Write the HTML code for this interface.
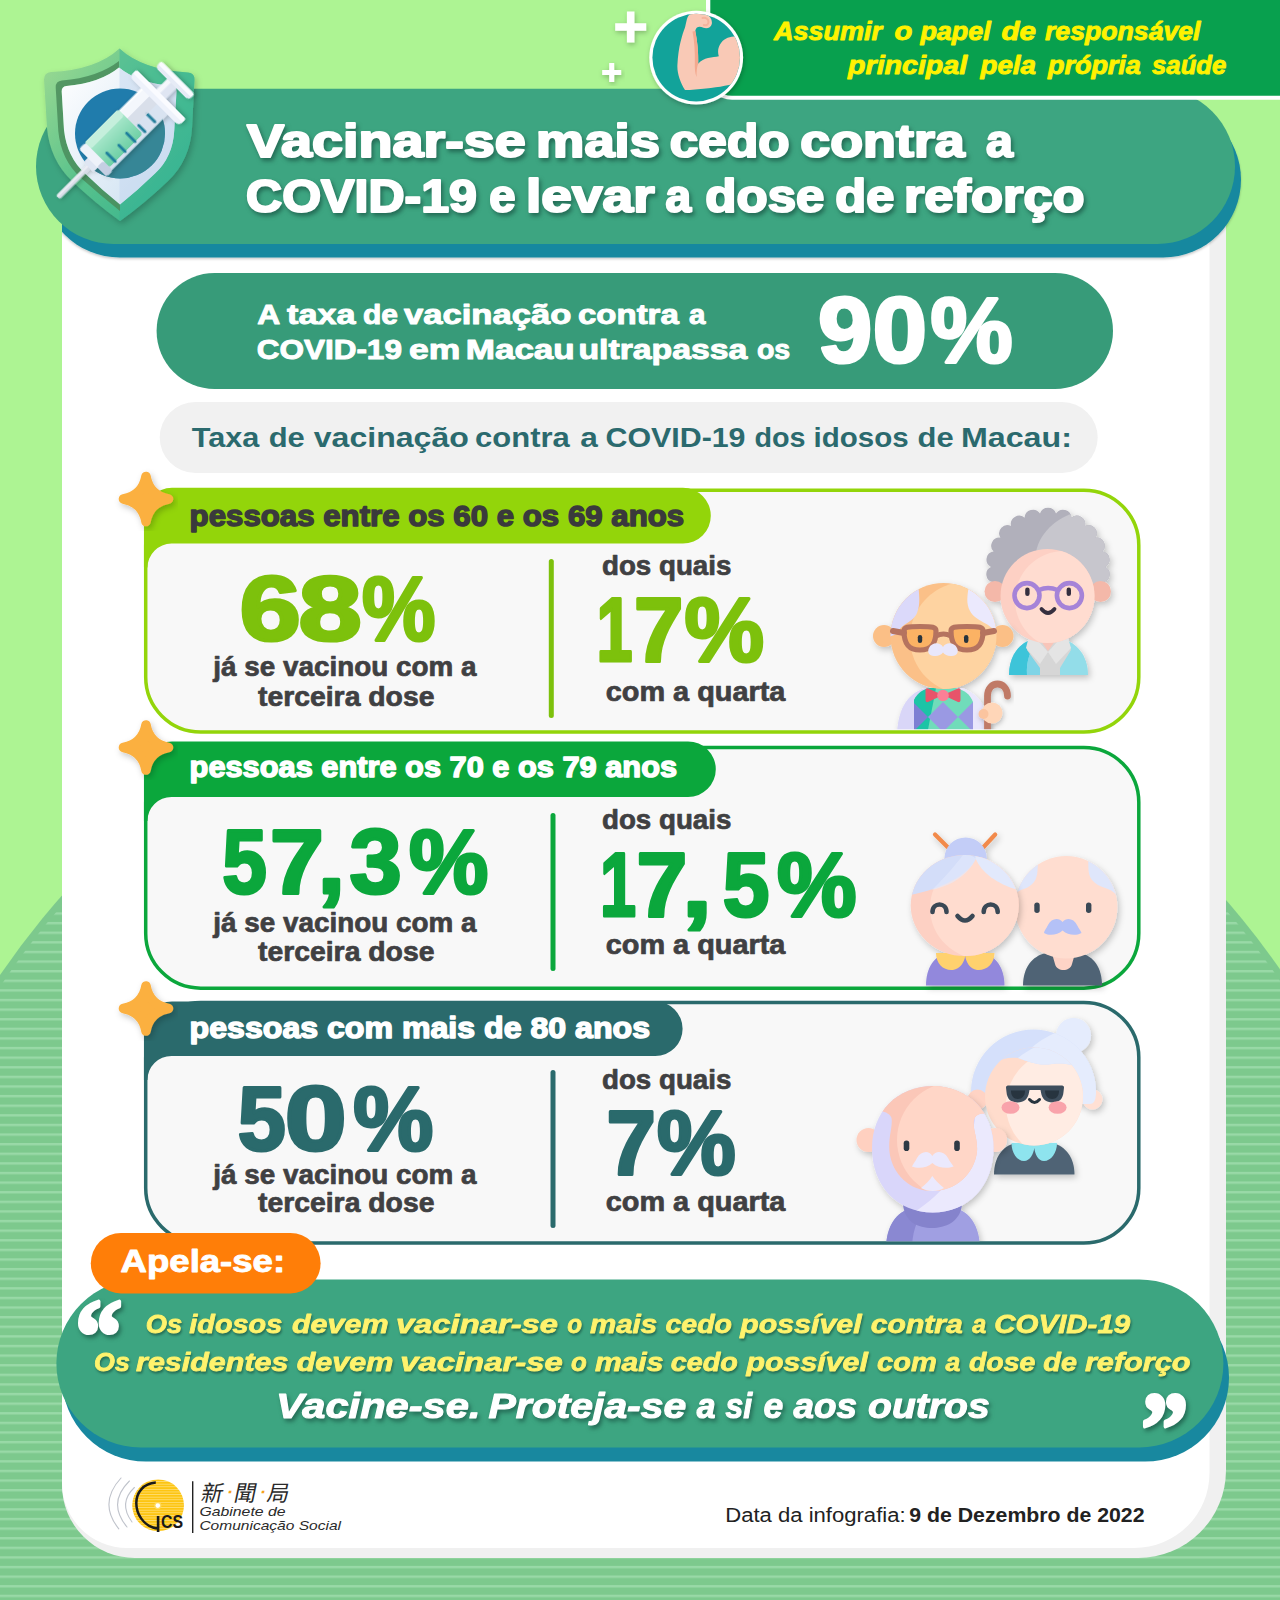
<!DOCTYPE html>
<html lang="pt"><head><meta charset="utf-8"><title>Vacinar-se mais cedo contra a COVID-19 e levar a dose de reforço</title>
<style>html,body{margin:0;padding:0;background:#adf493;}body{width:1280px;height:1600px;overflow:hidden;position:relative;font-family:"Liberation Sans","Noto Sans CJK TC",sans-serif;}svg{display:block;position:absolute;left:0;top:0}text{font-family:"Liberation Sans","Noto Sans CJK TC",sans-serif;white-space:pre}.sh{filter:drop-shadow(2px 3px 2px rgba(15,60,50,.55))}.sh2{filter:drop-shadow(1.5px 2px 1px rgba(20,70,55,.6))}</style></head><body>
<svg width="1280" height="1600" viewBox="0 0 1280 1600">
<defs>
<pattern id="stripes" x="0" y="8.900" width="20" height="9.6110" patternUnits="userSpaceOnUse"><rect width="20" height="9.6110" fill="#7dc98d"/><rect y="0" width="20" height="2.4" fill="#99d9a7"/></pattern>
<filter id="soft" x="-20%" y="-20%" width="140%" height="140%"><feDropShadow dx="2" dy="3" stdDeviation="3" flood-color="#000" flood-opacity=".22"/></filter>
<filter id="pillsh" x="-5%" y="-20%" width="110%" height="150%"><feDropShadow dx="0" dy="1.5" stdDeviation="1.2" flood-color="#000" flood-opacity=".22"/></filter><filter id="soft2" x="-20%" y="-20%" width="140%" height="140%"><feDropShadow dx="1" dy="2" stdDeviation="2.5" flood-color="#000" flood-opacity=".25"/></filter>
<linearGradient id="shieldG" x1="0" y1="0" x2="1" y2="1"><stop offset="0" stop-color="#a0db92"/><stop offset=".5" stop-color="#58c28c"/><stop offset="1" stop-color="#2fb08f"/></linearGradient>
<linearGradient id="shieldIn" x1="0" y1="0" x2="1" y2="1"><stop offset="0" stop-color="#ffffff"/><stop offset="1" stop-color="#c9def0"/></linearGradient>
<linearGradient id="syr" x1="0" y1="0" x2="1" y2="0"><stop offset="0" stop-color="#e8f1fb"/><stop offset="1" stop-color="#ffffff"/></linearGradient>
<linearGradient id="liq" x1="0" y1="0" x2="0" y2="1"><stop offset="0" stop-color="#b5ecd3"/><stop offset="1" stop-color="#6fd0a6"/></linearGradient>
</defs>
<rect width="1280" height="1600" fill="#adf493"/>
<clipPath id="hill"><circle cx="642" cy="1411" r="769.5"/></clipPath>
<circle cx="642" cy="1411" r="776" fill="#7dc98d"/>
<rect x="0" y="600" width="1280" height="1000" fill="url(#stripes)" clip-path="url(#hill)"/>
<path d="M62,160H1226V1470A88,88 0 0 1 1138,1558H135A73,73 0 0 1 62,1485Z" fill="#f0f0f0"/>
<path d="M62,160H1209.5V1473A75,75 0 0 1 1134.5,1548H127A65,65 0 0 1 62,1483Z" fill="#ffffff"/>
<path d="M626.95,11.5h7.5v11.75h11.75v7.5h-11.75v11.75h-7.5v-11.75h-11.75v-7.5h11.75z" fill="#fff" filter="url(#soft2)"/>
<path d="M609.2,63.0h5v7.0h7.0v5h-7.0v7.0h-5v-7.0h-7.0v-5h7.0z" fill="#fff" filter="url(#soft2)"/>
<clipPath id="cl62"><rect x="62" y="0" width="1218" height="1600"/></clipPath>
<rect x="42" y="102" width="1199" height="155.5" rx="77.7" fill="#18889f" clip-path="url(#cl62)" filter="url(#pillsh)"/>
<rect x="36" y="88.7" width="1199" height="155.3" rx="77.6" fill="#3da581"/>
<text y="156.9" font-size="46.5" font-weight="700" font-style="normal" fill="#fff" stroke="#fff" stroke-width="2.2" stroke-linejoin="round" class="sh"><tspan x="247.0" textLength="278.8" lengthAdjust="spacingAndGlyphs">Vacinar-se</tspan> <tspan x="536.1" textLength="123.8" lengthAdjust="spacingAndGlyphs">mais</tspan> <tspan x="669.8" textLength="119.8" lengthAdjust="spacingAndGlyphs">cedo</tspan> <tspan x="800.3" textLength="164.5" lengthAdjust="spacingAndGlyphs">contra</tspan>  <tspan x="985.9" textLength="26.9" lengthAdjust="spacingAndGlyphs">a</tspan></text>
<text y="212.3" font-size="46.5" font-weight="700" font-style="normal" fill="#fff" stroke="#fff" stroke-width="2.2" stroke-linejoin="round" class="sh"><tspan x="246.0" textLength="230.9" lengthAdjust="spacingAndGlyphs">COVID-19</tspan> <tspan x="489.3" textLength="26.3" lengthAdjust="spacingAndGlyphs">e</tspan> <tspan x="526.0" textLength="128.6" lengthAdjust="spacingAndGlyphs">levar</tspan> <tspan x="665.5" textLength="25.6" lengthAdjust="spacingAndGlyphs">a</tspan> <tspan x="705.3" textLength="119.1" lengthAdjust="spacingAndGlyphs">dose</tspan> <tspan x="835.3" textLength="59.1" lengthAdjust="spacingAndGlyphs">de</tspan> <tspan x="903.9" textLength="180.8" lengthAdjust="spacingAndGlyphs">reforço</tspan></text>
<path d="M706,0H1280V99.8H732A26,26 0 0 1 706,73.8Z" fill="#fff"/>
<path d="M710.3,0H1280V95.8H732A21.7,21.7 0 0 1 710.3,74Z" fill="#08a04e"/>
<text y="40.0" font-size="25" font-weight="700" font-style="italic" fill="#fff200" stroke="#fff200" stroke-width="0.9" stroke-linejoin="round"><tspan x="774.0" textLength="108.1" lengthAdjust="spacingAndGlyphs">Assumir</tspan> <tspan x="894.6" textLength="17.8" lengthAdjust="spacingAndGlyphs">o</tspan> <tspan x="920.4" textLength="70.4" lengthAdjust="spacingAndGlyphs">papel</tspan> <tspan x="1001.5" textLength="34.4" lengthAdjust="spacingAndGlyphs">de</tspan> <tspan x="1045.0" textLength="155.5" lengthAdjust="spacingAndGlyphs">responsável</tspan></text>
<text y="74.0" font-size="25" font-weight="700" font-style="italic" fill="#fff200" stroke="#fff200" stroke-width="0.9" stroke-linejoin="round"><tspan x="848.1" textLength="119.0" lengthAdjust="spacingAndGlyphs">principal</tspan> <tspan x="980.5" textLength="55.5" lengthAdjust="spacingAndGlyphs">pela</tspan> <tspan x="1047.9" textLength="93.0" lengthAdjust="spacingAndGlyphs">própria</tspan> <tspan x="1152.1" textLength="74.2" lengthAdjust="spacingAndGlyphs">saúde</tspan></text>
<g filter="url(#soft2)"><circle cx="696.2" cy="57.6" r="46.9" fill="#fff"/></g>
<circle cx="696.2" cy="57.6" r="43.8" fill="#12a39a"/>
<clipPath id="mc"><circle cx="696.2" cy="57.6" r="43.8"/></clipPath>
<g clip-path="url(#mc)"><path d="M690.6,14 C695,12.5 702,12.8 706,14.2 C710,15.8 712.5,19.5 711.8,24 C711,27.8 707,29 703.5,27.8 C701,26.8 699,26 697,27.5 C696,28.5 695.6,29.5 695.3,31 C697.5,42 698.5,53 698.2,63.8 C701,60.5 704.5,58.6 708,58 C712,57.3 716,57 718.8,56.3 C717.5,52 718,48 720,44.5 C723,39.5 728,37 733.8,36.6 L745,36 L745,80 C738,83.5 722,87 706,88.5 C699,89.3 691,90 685,90 C680,82 677,73 677.4,65 C677.8,56 679,48 680.5,42 C682,36 683.5,31 685,27.5 C686,23.5 686.5,20 687.5,17.5 C688.3,15.6 689.3,14.6 690.6,14Z" fill="#f9c9b6"/><path d="M692.5,31.5 C694.5,42 695,52 694.8,62 C694.6,68 695,73 696.5,77 C696.5,71 697,66.5 698.2,63.8 C698.5,53 697.5,42 695.3,31 Z" fill="#f3a98f"/><path d="M702.5,18 C705.5,17 708.5,19 708.5,22 C708.5,24.5 706,26 703.8,25" fill="none" stroke="#f5b39c" stroke-width="2" stroke-linecap="round"/></g>
<g filter="url(#soft)">
<path d="M119.5,48.5 Q96,70 51,72 Q44,72.5 44,79.5 L47,128 Q50,160 72,181 Q95,203 120,221 Q145,203 168,181 Q190,160 192,128 L194.5,80 Q195,73 188,72.5 Q143,70 119.5,48.5Z" fill="url(#shieldG)"/>
</g>
<clipPath id="shR"><rect x="119.5" y="40" width="90" height="190"/></clipPath>
<path d="M119.5,48.5 Q96,70 51,72 Q44,72.5 44,79.5 L47,128 Q50,160 72,181 Q95,203 120,221 Q145,203 168,181 Q190,160 192,128 L194.5,80 Q195,73 188,72.5 Q143,70 119.5,48.5Z" fill="#35b39a" opacity=".45" clip-path="url(#shR)"/>
<path d="M119,61 Q98,77.5 62,80.5 Q55.5,81 55.7,87.5 L58.3,131 Q61,160 81,178 Q100,195 120,211 L120,204 Q102,190 85,173.5 Q67,157 64,130 L61.7,91.5 Q61.5,86.5 66.5,86 Q100,83 119,67.5Z" fill="#4a8c5c" opacity=".85"/>
<path d="M119,67.5 Q100,83 66.5,86 Q61.5,86.5 61.7,91.5 L64,130 Q67,157 85,173.5 Q102,190 120,204.5 Q138,190 155,173.5 Q173,157 174.3,130 L176.5,91.5 Q176.7,86.5 172,86 Q138,83 119,67.5Z" fill="url(#shieldIn)"/>
<clipPath id="shIn"><path d="M119,67.5 Q100,83 66.5,86 Q61.5,86.5 61.7,91.5 L64,130 Q67,157 85,173.5 Q102,190 120,204.5 Q138,190 155,173.5 Q173,157 174.3,130 L176.5,91.5 Q176.7,86.5 172,86 Q138,83 119,67.5Z"/></clipPath>
<rect x="119.5" y="60" width="70" height="150" fill="#c4d7ee" opacity=".55" clip-path="url(#shIn)"/>
<circle cx="120" cy="133.5" r="45" fill="#207cac"/>
<clipPath id="bc"><circle cx="120" cy="133.5" r="45"/></clipPath>
<path d="M60,200 L200,60 L200,200Z" fill="#3d8a8f" opacity=".75" clip-path="url(#bc)"/>
<g transform="translate(58,197.5) rotate(-45)" filter="url(#soft2)">
<rect x="0" y="-2.6" width="47" height="5.2" rx="2.6" fill="#d9dde8"/>
<rect x="0" y="-2.6" width="47" height="2.4" rx="1.2" fill="#eceef5"/>
<rect x="43" y="-7" width="10" height="14" rx="2" fill="#dfe6f3"/>
<rect x="50" y="-18.5" width="92" height="37" rx="4" fill="url(#syr)"/>
<rect x="50" y="4" width="92" height="14.5" rx="3" fill="#cfdced" opacity=".8"/>
<rect x="57" y="-20" width="48" height="35" rx="3.5" fill="url(#liq)"/>
<rect x="57" y="-20" width="48" height="9" rx="3.5" fill="#c8f0de" opacity=".9"/>
<rect x="49" y="-19.5" width="9" height="39" rx="3" fill="#eef2fa"/>
<rect x="49" y="6" width="9" height="13.5" rx="3" fill="#c5cfe3"/>
<line x1="66" y1="3" x2="66" y2="15" stroke="#1a7f9c" stroke-width="3" stroke-linecap="round"/>
<line x1="80" y1="6" x2="80" y2="15" stroke="#1a7f9c" stroke-width="3" stroke-linecap="round"/>
<line x1="94" y1="3" x2="94" y2="15" stroke="#1a7f9c" stroke-width="3" stroke-linecap="round"/>
<line x1="108" y1="6" x2="108" y2="15" stroke="#1a7f9c" stroke-width="3" stroke-linecap="round"/>
<line x1="122" y1="3" x2="122" y2="15" stroke="#1a7f9c" stroke-width="3" stroke-linecap="round"/>
<rect x="105" y="-16" width="36" height="20" fill="#d5dbe8" opacity=".9"/>
<rect x="105" y="-16" width="36" height="9" fill="#f4f7fc"/>
<rect x="136" y="-35" width="10" height="70" rx="5" fill="#eef2fb"/>
<rect x="141" y="-35" width="5" height="70" rx="2.5" fill="#fafbff"/>
<rect x="146" y="-6.5" width="18" height="13" fill="#dfe5f2"/>
<rect x="146" y="-6.5" width="18" height="5" fill="#f5f7fc"/>
<rect x="161" y="-23.5" width="8.5" height="47" rx="4.2" fill="#e6ebf6"/>
<rect x="165" y="-23.5" width="4.5" height="47" rx="2.2" fill="#fafbff"/>
</g>
<rect x="156.6" y="273" width="956.4" height="116" rx="58" fill="#379b79"/>
<text y="324.4" font-size="28.5" font-weight="700" font-style="normal" fill="#fff" stroke="#fff" stroke-width="1.0" stroke-linejoin="round"><tspan x="257.3" textLength="21.8" lengthAdjust="spacingAndGlyphs">A</tspan> <tspan x="287.1" textLength="68.4" lengthAdjust="spacingAndGlyphs">taxa</tspan> <tspan x="363.0" textLength="35.0" lengthAdjust="spacingAndGlyphs">de</tspan> <tspan x="404.1" textLength="167.2" lengthAdjust="spacingAndGlyphs">vacinação</tspan> <tspan x="578.0" textLength="100.8" lengthAdjust="spacingAndGlyphs">contra</tspan> <tspan x="689.1" textLength="16.4" lengthAdjust="spacingAndGlyphs">a</tspan></text>
<text y="358.5" font-size="28.5" font-weight="700" font-style="normal" fill="#fff" stroke="#fff" stroke-width="1.0" stroke-linejoin="round"><tspan x="256.7" textLength="145.2" lengthAdjust="spacingAndGlyphs">COVID-19</tspan> <tspan x="409.1" textLength="51.3" lengthAdjust="spacingAndGlyphs">em</tspan> <tspan x="465.7" textLength="109.1" lengthAdjust="spacingAndGlyphs">Macau</tspan> <tspan x="578.4" textLength="168.9" lengthAdjust="spacingAndGlyphs">ultrapassa</tspan> <tspan x="756.9" textLength="33.3" lengthAdjust="spacingAndGlyphs">os</tspan></text>
<text y="362.1" font-size="92" font-weight="700" font-style="normal" fill="#fff" stroke="#fff" stroke-width="3.2" stroke-linejoin="round"><tspan x="818.0" textLength="54.2" lengthAdjust="spacingAndGlyphs">9</tspan><tspan x="872.8" textLength="54.2" lengthAdjust="spacingAndGlyphs">0</tspan><tspan x="930.6" textLength="82.1" lengthAdjust="spacingAndGlyphs">%</tspan></text>
<rect x="159.7" y="402" width="938" height="71" rx="35.5" fill="#f1f1f1"/>
<text y="447.2" font-size="28.5" font-weight="700" font-style="normal" fill="#2b6a6e"><tspan x="191.7" textLength="67.6" lengthAdjust="spacingAndGlyphs">Taxa</tspan> <tspan x="268.7" textLength="36.1" lengthAdjust="spacingAndGlyphs">de</tspan> <tspan x="313.8" textLength="155.0" lengthAdjust="spacingAndGlyphs">vacinação</tspan> <tspan x="475.0" textLength="94.8" lengthAdjust="spacingAndGlyphs">contra</tspan> <tspan x="580.3" textLength="17.6" lengthAdjust="spacingAndGlyphs">a</tspan> <tspan x="605.5" textLength="140.0" lengthAdjust="spacingAndGlyphs">COVID-19</tspan> <tspan x="754.4" textLength="51.1" lengthAdjust="spacingAndGlyphs">dos</tspan> <tspan x="813.6" textLength="95.1" lengthAdjust="spacingAndGlyphs">idosos</tspan> <tspan x="917.5" textLength="36.1" lengthAdjust="spacingAndGlyphs">de</tspan> <tspan x="960.9" textLength="111.0" lengthAdjust="spacingAndGlyphs">Macau:</tspan></text>
<rect x="145.7" y="490.2" width="993.0999999999999" height="241.8" rx="55" fill="#f8f8f8" stroke="#93d50a" stroke-width="3.5"/>
<path d="M143.95,515.8 A28,28 0 0 1 171.95,487.8 H682.9 A27.900000000000006,27.900000000000006 0 0 1 682.9,543.6 H171.45 A24,24 0 0 0 147.45,567.6 H143.95Z" fill="#93d50a"/>
<text x="189.6" y="525.7" font-size="30.2" font-weight="700" font-style="normal" fill="#3a3a3c" stroke="#3a3a3c" stroke-width="1.5" stroke-linejoin="round" textLength="494.6" lengthAdjust="spacingAndGlyphs">pessoas entre os 60 e os 69 anos</text>
<text y="639.8" font-size="91.5" font-weight="700" font-style="normal" fill="#7dc10c" stroke="#7dc10c" stroke-width="3.2" stroke-linejoin="round"><tspan x="239.6" textLength="61.4" lengthAdjust="spacingAndGlyphs">6</tspan><tspan x="298.6" textLength="63.3" lengthAdjust="spacingAndGlyphs">8</tspan><tspan x="362.1" textLength="73.4" lengthAdjust="spacingAndGlyphs">%</tspan></text>
<text x="213.3" y="675.5" font-size="27" font-weight="700" font-style="normal" fill="#404042" stroke="#404042" stroke-width="0.7" stroke-linejoin="round" textLength="263.2" lengthAdjust="spacingAndGlyphs">já se vacinou com a</text>
<text x="258.0" y="705.5" font-size="27" font-weight="700" font-style="normal" fill="#404042" stroke="#404042" stroke-width="0.7" stroke-linejoin="round" textLength="176.4" lengthAdjust="spacingAndGlyphs">terceira dose</text>
<line x1="551.3" y1="561.5" x2="551.3" y2="715.5" stroke="#7dc10c" stroke-width="5" stroke-linecap="round"/>
<text x="602.0" y="575.0" font-size="27" font-weight="700" font-style="normal" fill="#404042" stroke="#404042" stroke-width="0.7" stroke-linejoin="round" textLength="129.4" lengthAdjust="spacingAndGlyphs">dos quais</text>
<text y="661.2" font-size="91.5" font-weight="700" font-style="normal" fill="#7dc10c" stroke="#7dc10c" stroke-width="3.2" stroke-linejoin="round"><tspan x="596.4" textLength="36.1" lengthAdjust="spacingAndGlyphs">1</tspan><tspan x="634.1" textLength="49.4" lengthAdjust="spacingAndGlyphs">7</tspan><tspan x="684.5" textLength="79.5" lengthAdjust="spacingAndGlyphs">%</tspan></text>
<text x="605.7" y="701.0" font-size="27" font-weight="700" font-style="normal" fill="#404042" stroke="#404042" stroke-width="0.7" stroke-linejoin="round" textLength="179.7" lengthAdjust="spacingAndGlyphs">com a quarta</text>
<path d="M146,476.45 Q149.4,495.6 168.55,499 Q149.4,502.4 146,521.55 Q142.6,502.4 123.45,499 Q142.6,495.6 146,476.45Z" fill="#fbb040" stroke="#fbb040" stroke-width="9.5" stroke-linejoin="round" filter="url(#soft)"/>
<rect x="145.7" y="747.5" width="993.0999999999999" height="240.70000000000005" rx="55" fill="#f8f8f8" stroke="#0ba73c" stroke-width="3.5"/>
<path d="M143.95,769.5 A28,28 0 0 1 171.95,741.5 H688.05 A27.75,27.75 0 0 1 688.05,797 H171.45 A24,24 0 0 0 147.45,821 H143.95Z" fill="#0ba73c"/>
<text x="189.6" y="777.1" font-size="30.2" font-weight="700" font-style="normal" fill="#ffffff" stroke="#ffffff" stroke-width="1.5" stroke-linejoin="round" textLength="487.5" lengthAdjust="spacingAndGlyphs">pessoas entre os 70 e os 79 anos</text>
<text y="892.8" font-size="91.5" font-weight="700" font-style="normal" fill="#0ba73c" stroke="#0ba73c" stroke-width="3.2" stroke-linejoin="round"><tspan x="222.2" textLength="44.6" lengthAdjust="spacingAndGlyphs">5</tspan><tspan x="270.0" textLength="53.8" lengthAdjust="spacingAndGlyphs">7</tspan><tspan x="317.4" textLength="27.6" lengthAdjust="spacingAndGlyphs">,</tspan><tspan x="349.5" textLength="52.2" lengthAdjust="spacingAndGlyphs">3</tspan><tspan x="409.0" textLength="79.3" lengthAdjust="spacingAndGlyphs">%</tspan></text>
<text x="213.3" y="931.8" font-size="27" font-weight="700" font-style="normal" fill="#404042" stroke="#404042" stroke-width="0.7" stroke-linejoin="round" textLength="263.2" lengthAdjust="spacingAndGlyphs">já se vacinou com a</text>
<text x="258.0" y="961.3" font-size="27" font-weight="700" font-style="normal" fill="#404042" stroke="#404042" stroke-width="0.7" stroke-linejoin="round" textLength="176.4" lengthAdjust="spacingAndGlyphs">terceira dose</text>
<line x1="553" y1="815.5" x2="553" y2="968.5" stroke="#0ba73c" stroke-width="5" stroke-linecap="round"/>
<text x="602.0" y="828.5" font-size="27" font-weight="700" font-style="normal" fill="#404042" stroke="#404042" stroke-width="0.7" stroke-linejoin="round" textLength="129.4" lengthAdjust="spacingAndGlyphs">dos quais</text>
<text y="916.1" font-size="91.5" font-weight="700" font-style="normal" fill="#0ba73c" stroke="#0ba73c" stroke-width="3.2" stroke-linejoin="round"><tspan x="599.9" textLength="36.1" lengthAdjust="spacingAndGlyphs">1</tspan><tspan x="636.5" textLength="50.8" lengthAdjust="spacingAndGlyphs">7</tspan><tspan x="681.9" textLength="30.0" lengthAdjust="spacingAndGlyphs">,</tspan><tspan x="722.8" textLength="46.6" lengthAdjust="spacingAndGlyphs">5</tspan><tspan x="777.0" textLength="79.5" lengthAdjust="spacingAndGlyphs">%</tspan></text>
<text x="605.7" y="953.5" font-size="27" font-weight="700" font-style="normal" fill="#404042" stroke="#404042" stroke-width="0.7" stroke-linejoin="round" textLength="179.7" lengthAdjust="spacingAndGlyphs">com a quarta</text>
<path d="M146,724.95 Q149.4,744.1 168.55,747.5 Q149.4,750.9 146,770.05 Q142.6,750.9 123.45,747.5 Q142.6,744.1 146,724.95Z" fill="#fbb040" stroke="#fbb040" stroke-width="9.5" stroke-linejoin="round" filter="url(#soft)"/>
<rect x="145.7" y="1002.5" width="993.0999999999999" height="240.5" rx="55" fill="#f8f8f8" stroke="#2a6a6c" stroke-width="3.5"/>
<path d="M143.95,1029.5 A28,28 0 0 1 171.95,1001.5 H655.35 A27.25,27.25 0 0 1 655.35,1056 H171.45 A24,24 0 0 0 147.45,1080 H143.95Z" fill="#2a6a6c"/>
<text x="189.6" y="1038.1" font-size="30.2" font-weight="700" font-style="normal" fill="#ffffff" stroke="#ffffff" stroke-width="1.5" stroke-linejoin="round" textLength="460.4" lengthAdjust="spacingAndGlyphs">pessoas com mais de 80 anos</text>
<text y="1150.3" font-size="91.5" font-weight="700" font-style="normal" fill="#2a6a6c" stroke="#2a6a6c" stroke-width="3.2" stroke-linejoin="round"><tspan x="237.8" textLength="48.0" lengthAdjust="spacingAndGlyphs">5</tspan><tspan x="284.8" textLength="61.9" lengthAdjust="spacingAndGlyphs">0</tspan><tspan x="353.2" textLength="80.1" lengthAdjust="spacingAndGlyphs">%</tspan></text>
<text x="213.3" y="1183.5" font-size="27" font-weight="700" font-style="normal" fill="#404042" stroke="#404042" stroke-width="0.7" stroke-linejoin="round" textLength="263.2" lengthAdjust="spacingAndGlyphs">já se vacinou com a</text>
<text x="258.0" y="1212.3" font-size="27" font-weight="700" font-style="normal" fill="#404042" stroke="#404042" stroke-width="0.7" stroke-linejoin="round" textLength="176.4" lengthAdjust="spacingAndGlyphs">terceira dose</text>
<line x1="553" y1="1072.5" x2="553" y2="1225.5" stroke="#2a6a6c" stroke-width="5" stroke-linecap="round"/>
<text x="602.0" y="1089.3" font-size="27" font-weight="700" font-style="normal" fill="#404042" stroke="#404042" stroke-width="0.7" stroke-linejoin="round" textLength="129.4" lengthAdjust="spacingAndGlyphs">dos quais</text>
<text y="1173.5" font-size="91.5" font-weight="700" font-style="normal" fill="#2a6a6c" stroke="#2a6a6c" stroke-width="3.2" stroke-linejoin="round"><tspan x="606.6" textLength="49.4" lengthAdjust="spacingAndGlyphs">7</tspan><tspan x="657.0" textLength="78.7" lengthAdjust="spacingAndGlyphs">%</tspan></text>
<text x="605.7" y="1210.5" font-size="27" font-weight="700" font-style="normal" fill="#404042" stroke="#404042" stroke-width="0.7" stroke-linejoin="round" textLength="179.7" lengthAdjust="spacingAndGlyphs">com a quarta</text>
<path d="M146,985.95 Q149.4,1005.1 168.55,1008.5 Q149.4,1011.9 146,1031.05 Q142.6,1011.9 123.45,1008.5 Q142.6,1005.1 146,985.95Z" fill="#fbb040" stroke="#fbb040" stroke-width="9.5" stroke-linejoin="round" filter="url(#soft)"/>
<clipPath id="c1clip"><rect x="147.5" y="480" width="989.5" height="249.3" rx="0"/></clipPath>
<g filter="url(#soft)">
<path d="M992.9,582.2 A8.1,8.1 0 0 1 991.0,566.9 A8.1,8.1 0 0 1 993.6,551.6 A8.2,8.2 0 0 1 1000.4,537.7 A8.2,8.2 0 0 1 1011.1,526.1 A8.3,8.3 0 0 1 1024.6,517.8 A8.4,8.4 0 0 1 1040.0,513.5 A8.4,8.4 0 0 1 1056.0,513.5 A8.4,8.4 0 0 1 1071.4,517.8 A8.3,8.3 0 0 1 1084.9,526.1 A8.2,8.2 0 0 1 1095.6,537.7 A8.2,8.2 0 0 1 1102.4,551.6 A8.1,8.1 0 0 1 1105.0,566.9 A8.1,8.1 0 0 1 1103.1,582.2 L1095,600 L1000,600Z" fill="#b1b0bb"/>
<clipPath id="w1h"><path d="M992.9,582.2 A8.1,8.1 0 0 1 991.0,566.9 A8.1,8.1 0 0 1 993.6,551.6 A8.2,8.2 0 0 1 1000.4,537.7 A8.2,8.2 0 0 1 1011.1,526.1 A8.3,8.3 0 0 1 1024.6,517.8 A8.4,8.4 0 0 1 1040.0,513.5 A8.4,8.4 0 0 1 1056.0,513.5 A8.4,8.4 0 0 1 1071.4,517.8 A8.3,8.3 0 0 1 1084.9,526.1 A8.2,8.2 0 0 1 1095.6,537.7 A8.2,8.2 0 0 1 1102.4,551.6 A8.1,8.1 0 0 1 1105.0,566.9 A8.1,8.1 0 0 1 1103.1,582.2 L1095,600 L1000,600Z"/></clipPath>
<path d="M1036,552 C1040,530 1062,514 1080,512 L1120,512 L1120,610 L1060,610 Z" fill="#c7c6cd" clip-path="url(#w1h)"/>
<circle cx="995" cy="591.5" r="10.5" fill="#f4b8a9"/><circle cx="1100.5" cy="591.5" r="10.5" fill="#f4b8a9"/>
<path d="M1009,675 C1009,655 1020,642 1034,639 L1062,639 C1076,642 1088,655 1088,675Z" fill="#93dde9"/>
<path d="M1009,675 C1009,655 1020,642 1034,639 L1038,639 C1030,650 1026,662 1027,675Z" fill="#3cc4d9"/>
<path d="M1027,675 C1026,662 1030,650 1038,639 L1045,675Z" fill="#7fd4e6"/>
<path d="M1030,632 L1066,632 L1071,650 L1060,668 L1060,675 L1040,675 L1040,668 L1027,650Z" fill="#d6d6d6"/>
<path d="M1030,632 L1048,652 L1040,664 L1026,648Z" fill="#e4e4e4"/><path d="M1066,632 L1048,652 L1056,664 L1071,648Z" fill="#e4e4e4"/>
<path d="M1036,634 L1060,634 L1048,651Z" fill="#f8c5b9"/>
<circle cx="1047.5" cy="596" r="47" fill="#fdd0c4"/>
<clipPath id="w1f"><circle cx="1047.5" cy="596" r="47"/></clipPath>
<circle cx="1064" cy="600" r="49" fill="#ffdcd0" clip-path="url(#w1f)"/>
</g>
<g fill="none" stroke="#a583d8" stroke-width="4.6"><circle cx="1027" cy="595.6" r="12.5"/><circle cx="1069.4" cy="595.6" r="12.5"/><path d="M1039,590 Q1048,586 1057.5,590"/></g>
<rect x="1025.2" y="587.5" width="4.4" height="8.5" rx="2.2" fill="#352f3f"/><rect x="1066.6" y="587.5" width="4.4" height="8.5" rx="2.2" fill="#352f3f"/>
<path d="M1041.5,609 Q1048,617 1054.5,609" fill="none" stroke="#352f3f" stroke-width="3.8" stroke-linecap="round"/>
<g clip-path="url(#c1clip)">
<g filter="url(#soft)">
<path d="M897,740 C897,712 905,695 925,688 L962,688 C982,695 990,712 990,740Z" fill="#e9e7fc"/>
<path d="M897,740 C897,712 905,695 925,688 L930,688 C918,700 914,720 914,740Z" fill="#d9d6f8"/>
<path d="M914,740 L914,700 C918,692 924,689 930,688 L956,688 C964,690 970,694 973,702 L973,740Z" fill="#6fdcba"/>
<path d="M914,740 L914,700 C918,692 924,689 930,688 L936,688 L926,740Z" fill="#1cc4a6"/>
<clipPath id="vest"><path d="M914,740 L914,700 C918,692 924,689 930,688 L956,688 C964,690 970,694 973,702 L973,740Z"/></clipPath>
<g clip-path="url(#vest)"><path d="M943,702 L958,717 L943,732 L928,717Z" fill="#9a99e3"/><path d="M913,702 L928,717 L913,732 L898,717Z" fill="#7d7fd3"/><path d="M973,702 L988,717 L973,732 L958,717Z" fill="#9a99e3"/><path d="M928,730 L943,745 L913,745Z" fill="#19c0a3" opacity=".35"/></g>
<circle cx="884" cy="636" r="11" fill="#fbbf86"/><circle cx="1002.5" cy="636" r="11" fill="#fbbf86"/>
<circle cx="943.5" cy="636" r="53" fill="#fbc088"/>
</g>
<clipPath id="m1f"><circle cx="943.5" cy="636" r="53"/></clipPath>
<g clip-path="url(#m1f)">
<circle cx="966" cy="638" r="56" fill="#fed3a1"/>
<path d="M880,640 L880,575 L919,575 C917,590 922,600 917,613 C912,624 902,622 897,634Z" fill="#dbd9fa"/>
<path d="M1005,640 L1005,575 L969,575 C970,590 964,600 970,611 C976,622 990,622 997,634Z" fill="#ebe9fd"/>
</g>
<g fill="#fbb264" stroke="#b5735f" stroke-width="5.2" stroke-linejoin="round"><path d="M904,631 C904,627 907,626.5 920,626.5 C933,626.5 936,627 936,631 C936,643 932,650 920,650 C908,650 904,643 904,631Z"/><path d="M951,631 C951,627 954,626.5 967,626.5 C980,626.5 983,627 983,631 C983,643 979,650 967,650 C955,650 951,643 951,631Z"/></g>
<path d="M936,636 Q943.5,632 951,636" fill="none" stroke="#b5735f" stroke-width="5"/>
<path d="M904,633 L893,631" stroke="#b5735f" stroke-width="6" stroke-linecap="round"/><path d="M983,633 L994,631" stroke="#b5735f" stroke-width="6" stroke-linecap="round"/>
<rect x="917.8" y="635" width="4.4" height="8" rx="2.2" fill="#27333d"/><rect x="964" y="635" width="4.4" height="8" rx="2.2" fill="#27333d"/>
<path d="M943,647 C940,642 932,642 929,648 C927,652 929,656 934,656 C938,656.5 941,655 943,652.5 C945,655 948,656.5 952,656 C957,656 959,652 957,648 C954,642 946,642 943,647Z" fill="#e9e7fb"/>
<path d="M943,695 L928,688.5 C926,688 925.5,689 925.5,690.5 L925.5,700 C925.5,701.5 926.5,702.5 928,702 Z" fill="#e8546a"/><path d="M943,695 L958,688.5 C960,688 960.5,689 960.5,690.5 L960.5,700 C960.5,701.5 959.5,702.5 958,702 Z" fill="#e8546a"/><circle cx="943" cy="695.5" r="5.8" fill="#fb7f96"/>
<g filter="url(#soft2)"><path d="M987.5,740 L987.5,696 C987.5,680 1007.5,680 1007.5,696" fill="none" stroke="#c07a66" stroke-width="6.8" stroke-linecap="round"/><circle cx="992" cy="713" r="10.5" fill="#ffd6b8"/><circle cx="983.5" cy="714" r="5" fill="#fbc49f"/></g>
</g>
<g filter="url(#soft)">
<path d="M1023,985.5 C1023,968 1032,956 1046,953 L1080,953 C1094,956 1102,968 1102,985.5Z" fill="#4f6374"/>
<path d="M1051,950 L1076,950 L1072,964 C1070,972 1057,972 1055,964Z" fill="#fdd3c6"/>
<circle cx="1066.2" cy="907.2" r="51.2" fill="#ffddd0"/>
</g>
<clipPath id="m2f"><circle cx="1066.2" cy="907.2" r="51.2"/></clipPath>
<g clip-path="url(#m2f)">
<path d="M1010,895 L1010,850 L1040,850 C1036,862 1040,874 1034,882 C1028,890 1020,888 1014,895Z" fill="#dfe6fb"/>
<path d="M1120,896 L1120,850 L1087,850 C1090,862 1086,872 1092,880 C1099,889 1110,886 1117,896Z" fill="#dfe6fb"/>
</g>
<rect x="1034.3" y="902.5" width="5.4" height="10.5" rx="2.7" fill="#3a4855"/><rect x="1086" y="902.5" width="5.4" height="10.5" rx="2.7" fill="#3a4855"/>
<path d="M1062.6,922 C1059,917 1051,918 1048,925 C1046,929 1044,931 1044,933 C1049,936 1057,935.5 1062.6,930.5 C1068,935.5 1076,936 1081.5,933 C1081,931 1079,929 1077,925 C1074,918 1066,917 1062.6,922Z" fill="#b4c1f7"/>
<g filter="url(#soft)">
<path d="M935,834.5 L947.5,847" stroke="#f28a4b" stroke-width="4.2" stroke-linecap="round"/><path d="M995.2,834.5 L983.6,847" stroke="#f28a4b" stroke-width="4.2" stroke-linecap="round"/>
<circle cx="965.6" cy="858.6" r="21.2" fill="#c3cdf7"/>
<path d="M926,985.5 C926,968 934,956 947,953 L983,953 C996,956 1004.5,968 1004.5,985.5Z" fill="#9288dc"/>
<path d="M936,953 L994.5,953 C994.5,964 986,971 977,970 C970,969 966,962 965.2,956 C964.5,962 960,969 953,970 C944,971 936,964 936,953Z" fill="#ffd16e"/>
<ellipse cx="964.7" cy="905.5" rx="54" ry="50.5" fill="#fdd0c3"/>
</g>
<clipPath id="w2f"><ellipse cx="964.7" cy="905.5" rx="54" ry="50.5"/></clipPath>
<g clip-path="url(#w2f)">
<ellipse cx="985" cy="908" rx="55" ry="52" fill="#ffdccf"/>
<path d="M905,896 L905,845 L976,845 L976,858.5 C968,876 940,890 905,896Z" fill="#d3ddf9"/>
<path d="M1025,892 L1025,845 L975,845 L975.5,858.5 C982,874 1000,886 1025,892Z" fill="#e2e9fc"/>
<path d="M976,858.5 C968,876 950,886 932,890 C950,872 958,862 965,852Z" fill="#e2e9fc" opacity=".6"/>
</g>
<g fill="none" stroke="#3a4855" stroke-width="4.6" stroke-linecap="round"><path d="M932.5,912 C932.5,902 946.5,902 946.5,912"/><path d="M983.7,912 C983.7,902 997.7,902 997.7,912"/><path d="M957.5,916 Q965,925 972.5,916"/></g>
<clipPath id="c3clip"><rect x="147.5" y="1000" width="989.5" height="241.3"/></clipPath>
<g filter="url(#soft)">
<circle cx="1073.5" cy="1035.5" r="17.5" fill="#e5ecfd"/>
<path d="M971,1092 A62.5,62.5 0 0 1 1096,1092 C1096,1100 1094,1104 1090,1104 L978,1104 C973,1104 971,1100 971,1092Z" fill="#d5e0fb"/>
<circle cx="977.5" cy="1099.5" r="10" fill="#ffd3c4"/><circle cx="1092.5" cy="1099.5" r="10" fill="#ffe0d4"/>
<path d="M994,1174.5 C994,1158 1002,1146 1016,1143 L1052,1143 C1066,1146 1074.5,1158 1074.5,1174.5Z" fill="#4f6374"/>
<path d="M1011.5,1143 L1057,1143 C1057,1153 1051,1161 1044,1161 C1038,1161 1035,1154 1034.3,1148 C1033.5,1154 1030,1161 1024,1161 C1017,1161 1011.5,1153 1011.5,1143Z" fill="#8ee4ee"/>
</g>
<clipPath id="w3h"><path d="M971,1092 A62.5,62.5 0 0 1 1096,1092 C1096,1100 1094,1104 1090,1104 L978,1104 C973,1104 971,1100 971,1092Z"/></clipPath>
<path d="M1010,1080 C1020,1050 1050,1030 1075,1028 L1110,1028 L1110,1110 L1060,1110Z" fill="#e5ecfd" clip-path="url(#w3h)"/>
<circle cx="1034" cy="1096.5" r="49" fill="#ffdccc"/>
<clipPath id="w3f"><circle cx="1034" cy="1096.5" r="49"/></clipPath>
<g clip-path="url(#w3f)"><circle cx="1060" cy="1105" r="54" fill="#ffece3"/>
<path d="M980,1075 L980,1040 L1090,1040 L1090,1080 C1082,1066 1068,1062 1052,1064 C1038,1066 1030,1062 1018,1058 C1004,1056 990,1062 984,1078Z" fill="#d5e0fb"/>
<path d="M1090,1040 L1090,1080 C1082,1066 1068,1062 1052,1064 C1038,1066 1030,1062 1018,1058 C1030,1048 1045,1042 1060,1040Z" fill="#e5ecfd"/>
</g>
<path d="M1006,1087.5 C1006,1086 1007,1085.5 1009,1085.5 L1061,1085.5 C1063,1085.5 1064,1086 1064,1087.5 L1063.5,1092 C1063,1099 1059,1102.5 1052.5,1102.5 C1046,1102.5 1042,1099 1041,1092.5 L1040.5,1090 L1029.5,1090 L1029,1092.5 C1028,1099 1024,1102.5 1017.5,1102.5 C1011,1102.5 1007,1099 1006.5,1092Z" fill="#3d4d5c"/>
<path d="M1011,1090.5 L1025,1090.5 C1025,1096 1022,1099 1017.8,1099 C1013.5,1099 1011,1096 1011,1090.5Z" fill="#27343f"/><path d="M1045,1090.5 L1059,1090.5 C1059,1096 1056.5,1099 1052.2,1099 C1048,1099 1045,1096 1045,1090.5Z" fill="#27343f"/>
<path d="M1029.5,1099.5 Q1034.5,1105.5 1039.5,1099.5" fill="none" stroke="#27343f" stroke-width="3" stroke-linecap="round"/>
<ellipse cx="1010.5" cy="1107.5" rx="9" ry="6.3" fill="#f9a3ab"/><ellipse cx="1057.6" cy="1107.5" rx="9" ry="6.3" fill="#f9a3ab"/>
<g clip-path="url(#c3clip)">
<g filter="url(#soft)">
<path d="M886,1250 C886,1226 896,1212 912,1208 L955,1208 C970,1212 980,1226 980,1250Z" fill="#a09fe2"/>
<path d="M886,1250 C886,1226 896,1212 912,1208 L925,1208 C915,1222 912,1236 912,1250Z" fill="#8a88d2"/>
<path d="M903,1205 L962,1205 C960,1222 945,1228 932,1228 C918,1228 905,1222 903,1205Z" fill="#8583cc"/>
<circle cx="868.5" cy="1140" r="12" fill="#ffd0c0"/><circle cx="995" cy="1140" r="12" fill="#ffd8ca"/>
<path d="M932.8,1086 C968,1086 993.5,1112 993.5,1148 C993.5,1186 968,1212.5 932.8,1212.5 C897,1212.5 872,1186 872,1148 C872,1112 897,1086 932.8,1086Z" fill="#d9d6fa"/>
</g>
<clipPath id="m3f"><path d="M932.8,1086 C968,1086 993.5,1112 993.5,1148 C993.5,1186 968,1212.5 932.8,1212.5 C897,1212.5 872,1186 872,1148 C872,1112 897,1086 932.8,1086Z"/></clipPath>
<g clip-path="url(#m3f)">
<path d="M960,1080 L1000,1080 L1000,1220 L900,1220 C940,1200 965,1170 975,1120Z" fill="#ebe9fd"/>
<path d="M870,1111 L881,1111 C886,1112 890,1114 891.5,1118 C893,1126 888,1138 889.5,1152 C892,1174 910,1191 932,1191 C956,1191 974,1174 977,1152 C978,1138 972,1128 974,1120 C975,1116 978,1114 982,1113.5 L996,1113.5 L996,1080 L870,1080Z" fill="#fbc7b8"/>
<clipPath id="m3s"><path d="M870,1111 L881,1111 C886,1112 890,1114 891.5,1118 C893,1126 888,1138 889.5,1152 C892,1174 910,1191 932,1191 C956,1191 974,1174 977,1152 C978,1138 972,1128 974,1120 C975,1116 978,1114 982,1113.5 L996,1113.5 L996,1080 L870,1080Z"/></clipPath>
<circle cx="955" cy="1140" r="58" fill="#ffd6c7" clip-path="url(#m3s)"/>
</g>
<rect x="903.7" y="1140.5" width="5.6" height="10.5" rx="2.8" fill="#2f3a45"/><rect x="954.2" y="1140.5" width="5.6" height="10.5" rx="2.8" fill="#2f3a45"/>
<path d="M932.3,1156 C929,1150 921,1151 917,1158 C915,1162 913,1164 912,1166.5 C918,1169 927,1168 932.3,1163 C938,1168 947,1169 953.6,1166.5 C952,1164 950,1162 948,1158 C944,1151 936,1150 932.3,1156Z" fill="#ebe9fd"/>
<path d="M932.3,1176 C930,1180 926,1184 921,1188 C928,1192 938,1192 944,1188 C939,1184 935,1180 932.3,1176Z" fill="#ebe9fd"/>
</g>
<rect x="62" y="1293.6" width="1167" height="168" rx="84" fill="#18889f" clip-path="url(#cl62)"/>
<rect x="56.4" y="1279.4" width="1167" height="168" rx="84" fill="#3da581"/>
<rect x="90.8" y="1233" width="229.8" height="60.4" rx="30.2" fill="#ff7e08"/>
<text x="120.6" y="1271.9" font-size="31" font-weight="700" font-style="normal" fill="#fff" stroke="#fff" stroke-width="0.9" stroke-linejoin="round" textLength="164.5" lengthAdjust="spacingAndGlyphs">Apela-se:</text>
<text y="1332.7" font-size="25.5" font-weight="700" font-style="italic" fill="#fff36d" stroke="#fff36d" stroke-width="0.8" stroke-linejoin="round" class="sh2"><tspan x="145.7" textLength="36.4" lengthAdjust="spacingAndGlyphs">Os</tspan> <tspan x="189.3" textLength="92.9" lengthAdjust="spacingAndGlyphs">idosos</tspan> <tspan x="292.0" textLength="96.6" lengthAdjust="spacingAndGlyphs">devem</tspan> <tspan x="395.9" textLength="162.1" lengthAdjust="spacingAndGlyphs">vacinar-se</tspan> <tspan x="567.2" textLength="14.8" lengthAdjust="spacingAndGlyphs">o</tspan> <tspan x="589.9" textLength="67.3" lengthAdjust="spacingAndGlyphs">mais</tspan> <tspan x="665.4" textLength="66.7" lengthAdjust="spacingAndGlyphs">cedo</tspan> <tspan x="740.3" textLength="121.3" lengthAdjust="spacingAndGlyphs">possível</tspan> <tspan x="870.7" textLength="92.2" lengthAdjust="spacingAndGlyphs">contra</tspan> <tspan x="972.2" textLength="14.0" lengthAdjust="spacingAndGlyphs">a</tspan> <tspan x="994.3" textLength="135.9" lengthAdjust="spacingAndGlyphs">COVID-19</tspan></text>
<text y="1371.2" font-size="25.5" font-weight="700" font-style="italic" fill="#fff36d" stroke="#fff36d" stroke-width="0.8" stroke-linejoin="round" class="sh2"><tspan x="94.1" textLength="35.8" lengthAdjust="spacingAndGlyphs">Os</tspan> <tspan x="136.1" textLength="152.3" lengthAdjust="spacingAndGlyphs">residentes</tspan> <tspan x="296.7" textLength="96.6" lengthAdjust="spacingAndGlyphs">devem</tspan> <tspan x="400.2" textLength="162.5" lengthAdjust="spacingAndGlyphs">vacinar-se</tspan> <tspan x="570.9" textLength="15.8" lengthAdjust="spacingAndGlyphs">o</tspan> <tspan x="594.9" textLength="68.5" lengthAdjust="spacingAndGlyphs">mais</tspan> <tspan x="670.8" textLength="67.1" lengthAdjust="spacingAndGlyphs">cedo</tspan> <tspan x="746.5" textLength="121.4" lengthAdjust="spacingAndGlyphs">possível</tspan> <tspan x="877.0" textLength="59.7" lengthAdjust="spacingAndGlyphs">com</tspan> <tspan x="945.6" textLength="14.8" lengthAdjust="spacingAndGlyphs">a</tspan> <tspan x="969.0" textLength="66.4" lengthAdjust="spacingAndGlyphs">dose</tspan> <tspan x="1043.3" textLength="33.6" lengthAdjust="spacingAndGlyphs">de</tspan> <tspan x="1084.9" textLength="105.7" lengthAdjust="spacingAndGlyphs">reforço</tspan></text>
<text y="1417.7" font-size="35" font-weight="700" font-style="italic" fill="#fff" stroke="#fff" stroke-width="1.1" stroke-linejoin="round" class="sh"><tspan x="276.1" textLength="204.4" lengthAdjust="spacingAndGlyphs">Vacine-se.</tspan> <tspan x="488.6" textLength="197.6" lengthAdjust="spacingAndGlyphs">Proteja-se</tspan> <tspan x="696.7" textLength="18.8" lengthAdjust="spacingAndGlyphs">a</tspan> <tspan x="725.4" textLength="26.7" lengthAdjust="spacingAndGlyphs">si</tspan> <tspan x="763.5" textLength="19.7" lengthAdjust="spacingAndGlyphs">e</tspan> <tspan x="793.4" textLength="63.6" lengthAdjust="spacingAndGlyphs">aos</tspan> <tspan x="868.1" textLength="121.6" lengthAdjust="spacingAndGlyphs">outros</tspan></text>
<text x="75.3" y="1370.6" font-size="103" font-weight="700" fill="#fff" stroke="#fff" stroke-width="4" stroke-linejoin="round" textLength="47.1" lengthAdjust="spacingAndGlyphs" class="sh" style="font-family:'Liberation Serif',serif">“</text>
<text x="1141.3" y="1463.7" font-size="103" font-weight="700" fill="#fff" stroke="#fff" stroke-width="4" stroke-linejoin="round" textLength="47.1" lengthAdjust="spacingAndGlyphs" class="sh" style="font-family:'Liberation Serif',serif">”</text>
<g fill="none" stroke="#b9bdc6" stroke-width="1.1" stroke-linecap="round" opacity=".9"><path d="M121,1478 Q98,1503 118.8,1528.8"/><path d="M129.4,1481 Q107,1503 127,1527"/><path d="M134.4,1487.5 Q118,1503 132,1522"/></g>
<pattern id="lgs" x="0" y="1479.4" width="10" height="2.6" patternUnits="userSpaceOnUse"><rect width="10" height="2.6" fill="#fdc512"/><rect y="2" width="10" height=".6" fill="#ffe89a"/></pattern>
<circle cx="158.1" cy="1505.3" r="25.9" fill="url(#lgs)"/>
<path d="M155.8,1482.6 C143,1483.5 136.3,1493 136.3,1503 C136.3,1515 144,1524.5 153,1527.5 C155.5,1528.3 157,1528.3 158.1,1528.3" fill="none" stroke="#1a1a1a" stroke-width="2.5" stroke-linecap="butt"/>
<path d="M158.1,1516 V1532" stroke="#1a1a1a" stroke-width="2.6"/>
<circle cx="157.8" cy="1505.6" r="3.6" fill="#ffd95a"/><circle cx="157.8" cy="1505.6" r="2.3" fill="#fff"/>
<text x="160.9" y="1527.6" font-size="17.5" font-weight="700" fill="#1a1a1a" textLength="22.1" lengthAdjust="spacingAndGlyphs">CS</text>
<path d="M192.7,1481.2 V1533" stroke="#222" stroke-width="1.4"/>
<g transform="translate(200,1501) skewX(-12)"><text x="0" y="0" font-size="22" font-weight="400" fill="#2a2a2a" style="font-family:'Liberation Sans','Noto Sans CJK TC',sans-serif"><tspan x="0">新</tspan><tspan x="25.6" fill="#f5a21b" font-weight="700" font-size="18" dy="-3">·</tspan><tspan x="33" dy="3">聞</tspan><tspan x="58.6" fill="#f5a21b" font-weight="700" font-size="18" dy="-3">·</tspan><tspan x="66" dy="3">局</tspan></text></g>
<text x="199.5" y="1516.4" font-size="12.6" font-style="italic" font-weight="400" fill="#2a2a2a" textLength="86.0" lengthAdjust="spacingAndGlyphs">Gabinete de</text>
<text x="199.4" y="1529.6" font-size="12.6" font-style="italic" font-weight="400" fill="#2a2a2a" textLength="141.6" lengthAdjust="spacingAndGlyphs">Comunicação Social</text>
<text x="725.2" y="1521.8" font-size="19.5" font-weight="400" font-style="normal" fill="#222" textLength="180.4" lengthAdjust="spacingAndGlyphs">Data da infografia:</text>
<text x="909.3" y="1521.8" font-size="19.5" font-weight="700" font-style="normal" fill="#222" textLength="235.2" lengthAdjust="spacingAndGlyphs">9 de Dezembro de 2022</text>
</svg></body></html>
